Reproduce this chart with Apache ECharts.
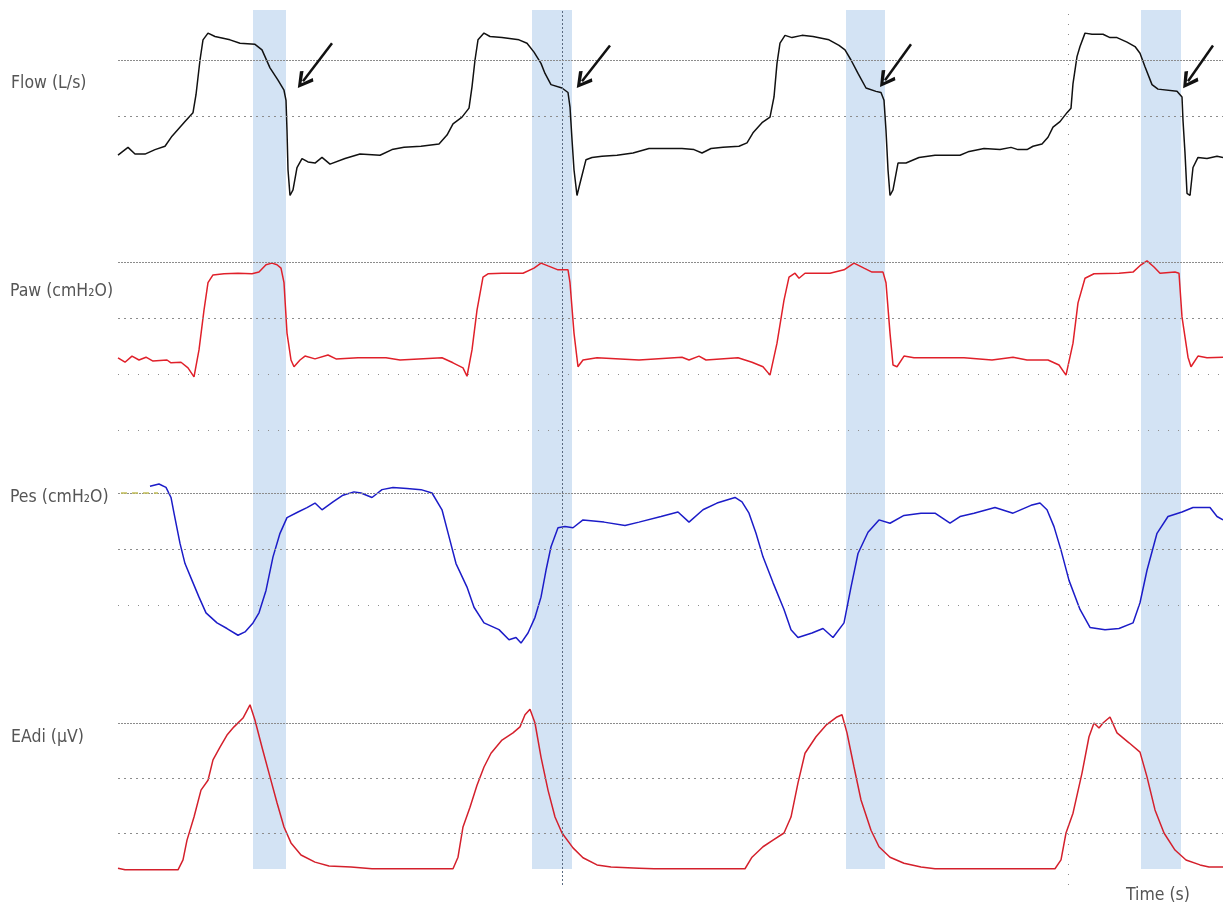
<!DOCTYPE html>
<html>
<head>
<meta charset="utf-8">
<script src="https://cdn.jsdelivr.net/npm/echarts@6/dist/echarts.min.js"></script>
<style>
html,body{margin:0;padding:0;background:#fff;}
#chart{width:1223px;height:907px;}
</style>
</head>
<body>
<div id="chart"></div>
<script>
// ---------------- DATA ----------------
// time in seconds
const flowT = [0.00,0.10,0.17,0.27,0.37,0.47,0.54,0.67,0.75,0.78,0.82,0.85,0.90,0.97,1.12,1.22,1.37,1.44,1.52,1.60,1.66,1.68,1.69,1.70,1.72,1.75,1.79,1.84,1.90,1.97,2.04,2.12,2.27,2.42,2.62,2.74,2.86,3.03,3.21,3.29,3.35,3.44,3.51,3.54,3.57,3.60,3.66,3.72,3.84,4.01,4.09,4.16,4.23,4.27,4.33,4.44,4.50,4.52,4.54,4.56,4.59,4.62,4.68,4.74,4.84,4.99,5.15,5.31,5.48,5.64,5.76,5.84,5.93,6.05,6.21,6.29,6.35,6.44,6.52,6.56,6.59,6.62,6.67,6.74,6.84,6.95,7.11,7.21,7.27,7.33,7.40,7.48,7.58,7.63,7.66,7.68,7.70,7.72,7.75,7.80,7.88,8.01,8.17,8.42,8.50,8.66,8.82,8.93,9.00,9.09,9.15,9.24,9.30,9.35,9.42,9.49,9.53,9.55,9.59,9.62,9.67,9.74,9.85,9.92,9.99,10.09,10.17,10.22,10.27,10.34,10.40,10.59,10.64,10.65,10.67,10.69,10.72,10.75,10.80,10.89,10.99,11.05];
const flowV = [-0.35,-0.28,-0.34,-0.34,-0.30,-0.27,-0.18,-0.05,0.03,0.19,0.50,0.68,0.74,0.71,0.68,0.65,0.64,0.59,0.43,0.32,0.23,0.14,-0.13,-0.48,-0.71,-0.66,-0.46,-0.38,-0.41,-0.42,-0.37,-0.43,-0.38,-0.34,-0.35,-0.30,-0.28,-0.27,-0.25,-0.17,-0.07,-0.01,0.07,0.26,0.50,0.68,0.74,0.71,0.70,0.68,0.65,0.57,0.47,0.38,0.28,0.25,0.21,0.08,-0.21,-0.48,-0.71,-0.60,-0.39,-0.37,-0.36,-0.35,-0.33,-0.29,-0.29,-0.29,-0.30,-0.33,-0.29,-0.28,-0.27,-0.24,-0.15,-0.06,-0.01,0.17,0.47,0.65,0.72,0.70,0.72,0.71,0.68,0.63,0.59,0.50,0.38,0.25,0.22,0.21,0.14,-0.13,-0.48,-0.71,-0.66,-0.42,-0.42,-0.37,-0.35,-0.35,-0.32,-0.29,-0.30,-0.28,-0.30,-0.30,-0.27,-0.25,-0.19,-0.10,-0.05,0.03,0.07,0.29,0.53,0.62,0.74,0.73,0.73,0.70,0.70,0.66,0.62,0.56,0.44,0.28,0.24,0.22,0.17,-0.04,-0.33,-0.69,-0.71,-0.46,-0.37,-0.38,-0.36,-0.37];

const pawT = [0.00,0.07,0.14,0.21,0.28,0.35,0.49,0.53,0.63,0.70,0.76,0.81,0.86,0.90,0.95,1.06,1.20,1.34,1.41,1.48,1.54,1.59,1.63,1.66,1.69,1.73,1.76,1.82,1.87,1.97,2.10,2.18,2.40,2.68,2.82,3.24,3.35,3.45,3.49,3.54,3.59,3.65,3.70,3.84,4.05,4.16,4.23,4.30,4.40,4.50,4.52,4.56,4.60,4.65,4.79,5.21,5.64,5.71,5.81,5.88,6.20,6.34,6.45,6.52,6.59,6.66,6.71,6.77,6.81,6.87,6.98,7.12,7.26,7.36,7.46,7.54,7.65,7.68,7.72,7.75,7.79,7.86,7.96,8.46,8.74,8.95,9.09,9.30,9.41,9.48,9.55,9.60,9.67,9.76,10.01,10.15,10.23,10.29,10.36,10.42,10.57,10.61,10.64,10.70,10.73,10.80,10.89,11.05];
const pawV = [2.9,2.1,3.2,2.5,3.0,2.3,2.5,2.0,2.1,1.1,-0.5,4.3,11.4,16.3,17.7,17.9,18.0,17.9,18.2,19.5,19.8,19.5,18.9,16.3,7.3,2.5,1.3,2.5,3.2,2.7,3.4,2.7,2.9,2.9,2.5,2.9,2.0,1.1,-0.4,4.3,11.4,17.3,17.9,18.0,18.0,18.9,19.8,19.3,18.6,18.6,16.3,7.3,1.3,2.5,2.9,2.5,3.0,2.5,3.2,2.5,2.9,2.1,1.3,-0.2,5.5,13.2,17.3,18.0,17.1,18.0,18.0,18.0,18.6,19.8,18.9,18.2,18.2,16.3,7.3,1.6,1.3,3.2,2.9,2.9,2.5,3.0,2.5,2.5,1.6,-0.2,5.5,12.7,17.1,17.9,18.0,18.2,19.5,20.2,19.1,18.0,18.2,18.0,10.2,3.0,1.3,3.2,2.9,3.0];

const pesT = [0.32,0.41,0.48,0.53,0.56,0.62,0.67,0.74,0.81,0.88,0.99,1.09,1.20,1.27,1.35,1.41,1.48,1.55,1.62,1.69,1.80,1.89,1.97,2.04,2.15,2.25,2.36,2.43,2.54,2.64,2.75,2.89,3.03,3.14,3.24,3.31,3.38,3.49,3.56,3.66,3.81,3.91,3.98,4.03,4.10,4.17,4.23,4.28,4.33,4.40,4.47,4.55,4.65,4.86,5.07,5.21,5.43,5.60,5.71,5.85,5.99,6.17,6.24,6.31,6.38,6.45,6.55,6.66,6.73,6.80,6.94,7.05,7.15,7.26,7.33,7.40,7.50,7.61,7.72,7.86,8.03,8.17,8.32,8.42,8.56,8.77,8.95,9.13,9.22,9.29,9.36,9.43,9.51,9.62,9.72,9.87,10.01,10.15,10.22,10.29,10.39,10.50,10.64,10.75,10.85,10.92,10.99,11.05];
const pesV = [0.6,0.8,0.5,-0.4,-1.8,-4.5,-6.3,-7.8,-9.3,-10.7,-11.6,-12.1,-12.7,-12.4,-11.6,-10.7,-8.7,-5.7,-3.6,-2.2,-1.7,-1.3,-0.9,-1.5,-0.8,-0.2,0.1,0.0,-0.4,0.3,0.5,0.4,0.3,0.0,-1.5,-3.9,-6.3,-8.4,-10.2,-11.6,-12.2,-13.1,-12.9,-13.4,-12.5,-11.1,-9.3,-6.9,-4.8,-3.1,-3.0,-3.1,-2.4,-2.6,-2.9,-2.6,-2.1,-1.7,-2.6,-1.5,-0.9,-0.4,-0.8,-1.8,-3.6,-5.7,-8.0,-10.4,-12.2,-12.9,-12.5,-12.1,-12.9,-11.6,-8.4,-5.4,-3.5,-2.4,-2.7,-2.0,-1.8,-1.8,-2.7,-2.1,-1.8,-1.3,-1.8,-1.1,-0.9,-1.5,-3.0,-5.1,-7.8,-10.4,-12.0,-12.2,-12.1,-11.6,-9.8,-6.9,-3.6,-2.1,-1.7,-1.3,-1.3,-1.3,-2.1,-2.4];

const eadiT = [0.00,0.07,0.60,0.65,0.69,0.76,0.83,0.90,0.95,1.02,1.09,1.16,1.25,1.32,1.37,1.44,1.52,1.59,1.66,1.73,1.83,1.97,2.11,2.33,2.54,3.35,3.40,3.45,3.52,3.59,3.66,3.73,3.84,3.95,4.02,4.07,4.12,4.17,4.23,4.30,4.37,4.44,4.55,4.65,4.79,4.93,5.21,5.36,6.27,6.34,6.45,6.55,6.66,6.73,6.80,6.87,6.98,7.08,7.19,7.24,7.29,7.36,7.43,7.53,7.61,7.72,7.86,8.03,8.17,9.37,9.43,9.48,9.55,9.64,9.71,9.76,9.81,9.85,9.92,9.99,10.11,10.22,10.29,10.37,10.46,10.57,10.68,10.82,10.91,11.05];
const eadiV = [3.6,3.3,3.3,5.1,8.7,12.9,17.8,19.6,23.3,25.6,27.8,29.3,30.9,33.3,30.5,25.6,20.2,15.5,11.1,8.2,6.0,4.7,4.0,3.8,3.5,3.5,5.6,11.1,14.7,18.7,22.0,24.5,26.9,28.2,29.3,31.5,32.5,30.0,23.8,17.8,12.9,10.0,7.3,5.5,4.2,3.8,3.6,3.5,3.5,5.6,7.5,8.7,10.0,12.9,19.1,24.5,27.5,29.6,31.1,31.5,28.2,22.0,16.0,10.5,7.5,5.6,4.5,3.8,3.5,3.5,5.1,10.0,13.6,20.9,27.5,30.0,29.1,30.0,31.1,28.2,26.4,24.7,20.2,14.2,10.0,6.9,5.1,4.2,3.8,3.8];

// shaded intervals (s) and cursor lines (s)
const bandStarts = [1.35, 4.14, 7.28, 10.23];
const bandEnds   = [1.68, 4.54, 7.67, 10.63];
const cursorTimes = [4.44, 9.50];

// arrows on the flow trace: [time, flow] tails and arrowhead centres
const arrowTails = [[2.14,0.65],[4.92,0.63],[7.93,0.64],[10.95,0.63]];
const arrowTips  = [[1.85,0.31],[4.64,0.31],[7.67,0.32],[10.70,0.31]];

// reference gridline values
const flowGrid = [0.5, 0];
const pawGrid  = [20, 10, 0, -10];
const pesGrid  = [0, -5, -10];
const eadiGrid = [30, 20, 10];

const labels = ['Flow (L/s)', 'Paw (cmH\u2082O)', 'Pes (cmH\u2082O)', 'EAdi (\u03bcV)'];
const xLabel = 'Time (s)';

// ---------------- CHART ----------------
const T_MAX = 11.05;
const zip = (t, v) => t.map((x, i) => [x, v[i]]);

const DENSE  = {color: '#8c8c8c', width: 1, type: [2, 1]};
const MEDIUM = {color: '#8c8c8c', width: 1, type: [2, 4]};
const SPARSE = {color: '#8c8c8c', width: 1, type: [1, 9]};

function gridMarks(vals, styles) {
  return {
    silent: true, symbol: 'none', label: {show: false},
    data: vals.map((v, i) => ({yAxis: v, lineStyle: styles[i]}))
  };
}

const FONT = "'Liberation Sans Narrow', 'DejaVu Sans Condensed', 'Liberation Sans', sans-serif";
const chevron = 'path://M50,0 L100,72 L84,84 L50,30 L16,84 L0,72 Z';
const TS = {fontFamily: FONT, fontSize: 17.5, fontWeight: 'normal', color: '#555'};

const grids = [
  {left: 118, right: 0, top: 4, height: 224},
  {left: 118, right: 0, top: 234, height: 196},
  {left: 118, right: 0, top: 470.6, height: 201.6},
  {left: 118, right: 0, top: 668, height: 220},
  {left: 118, right: 0, top: 10, height: 859},
  {left: 118, right: 0, top: 10, height: 875}
];
const yRanges = [[-1, 1], [-10, 25], [-16, 2], [0, 40], [0, 1], [0, 1]];

const option = {
  animation: false,
  backgroundColor: '#ffffff',
  grid: grids,
  xAxis: grids.map((g, i) => ({type: 'value', gridIndex: i, min: 0, max: T_MAX, show: false})),
  yAxis: yRanges.map((r, i) => ({type: 'value', gridIndex: i, min: r[0], max: r[1], show: false})),
  title: [
    {text: labels[0], left: 11, top: 74, padding: 0, textStyle: TS},
    {text: labels[1], left: 10, top: 282, padding: 0, textStyle: TS},
    {text: labels[2], left: 10, top: 488, padding: 0, textStyle: TS},
    {text: labels[3], left: 11, top: 728, padding: 0, textStyle: TS},
    {text: xLabel, left: 1126, top: 886, padding: 0, textStyle: TS}
  ],
  series: [
    {
      type: 'line', xAxisIndex: 4, yAxisIndex: 4, data: [], z: 0, silent: true,
      markArea: {
        silent: true,
        itemStyle: {color: '#d3e3f4'},
        data: bandStarts.map((s, i) => [{xAxis: s}, {xAxis: bandEnds[i]}])
      }
    },
    {
      type: 'line', xAxisIndex: 5, yAxisIndex: 5, data: [], z: 1, silent: true,
      markLine: {
        silent: true, symbol: 'none', label: {show: false},
        data: [
          {xAxis: cursorTimes[0], lineStyle: {color: '#5a6a80', width: 1, type: [2, 2]}},
          {xAxis: cursorTimes[1], lineStyle: {color: '#8c8c8c', width: 1, type: [1, 9]}}
        ]
      }
    },
    {
      type: 'line', xAxisIndex: 0, yAxisIndex: 0, data: zip(flowT, flowV), z: 3,
      showSymbol: false, symbol: 'none', lineStyle: {color: '#111', width: 1.5},
      markLine: gridMarks(flowGrid, [DENSE, MEDIUM])
    },
    {
      type: 'line', xAxisIndex: 0, yAxisIndex: 0, data: [], z: 4,
      markLine: {
        silent: true, symbol: ['none', chevron], symbolSize: 17, label: {show: false},
        itemStyle: {color: '#111'},
        lineStyle: {color: '#111', width: 2.5, type: 'solid'},
        data: arrowTails.map((a, i) => [{coord: a}, {coord: arrowTips[i]}])
      }
    },
    {
      type: 'line', xAxisIndex: 1, yAxisIndex: 1, data: zip(pawT, pawV), z: 3,
      showSymbol: false, symbol: 'none', lineStyle: {color: '#e0202a', width: 1.5},
      markLine: gridMarks(pawGrid, [DENSE, MEDIUM, SPARSE, SPARSE])
    },
    {
      type: 'line', xAxisIndex: 2, yAxisIndex: 2, data: zip(pesT, pesV), z: 3,
      showSymbol: false, symbol: 'none', lineStyle: {color: '#1c1cc8', width: 1.5},
      markLine: {
        silent: true, symbol: 'none', label: {show: false},
        data: pesGrid.map((v, i) => ({yAxis: v, lineStyle: [DENSE, MEDIUM, SPARSE][i]})).concat([
          [{coord: [0.03, 0], lineStyle: {color: '#c2bf5a', width: 1.5, type: [6, 5]}}, {coord: [0.40, 0]}]
        ])
      }
    },
    {
      type: 'line', xAxisIndex: 3, yAxisIndex: 3, data: zip(eadiT, eadiV), z: 3,
      showSymbol: false, symbol: 'none', lineStyle: {color: '#d4202c', width: 1.5},
      markLine: gridMarks(eadiGrid, [DENSE, MEDIUM, MEDIUM])
    }
  ]
};

const chart = echarts.init(document.getElementById('chart'), null, {renderer: 'canvas'});
chart.setOption(option);
</script>
</body>
</html>
